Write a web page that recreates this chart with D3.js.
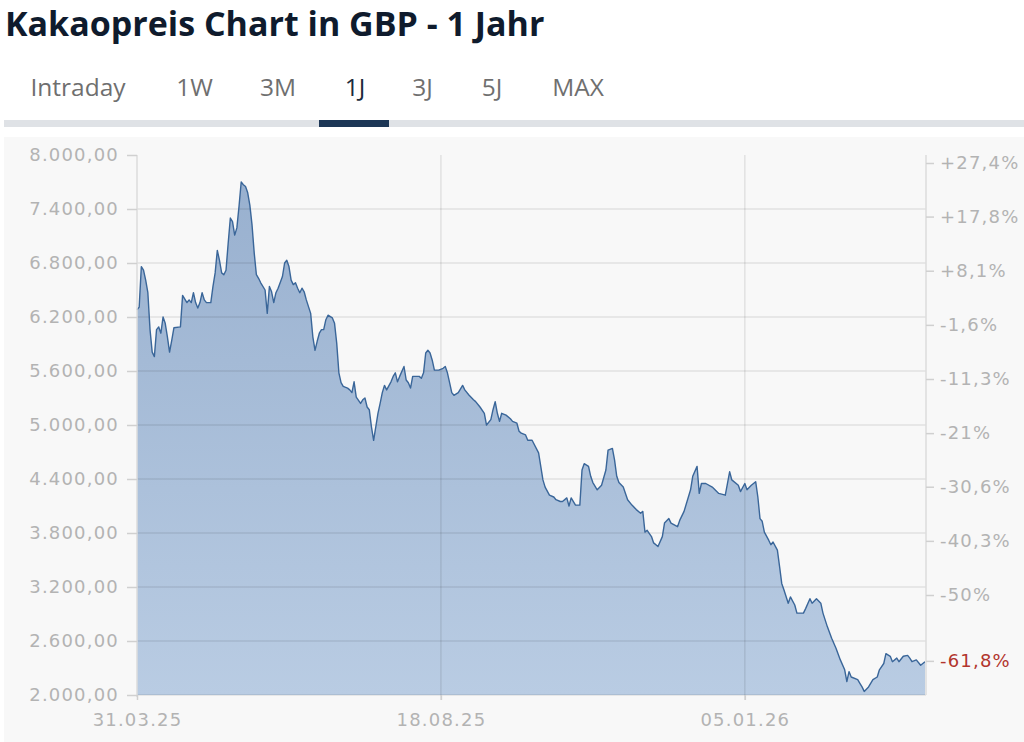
<!DOCTYPE html>
<html><head><meta charset="utf-8">
<script src="https://cdn.jsdelivr.net/npm/d3@7"></script>
<style>html,body{margin:0;padding:0;background:#fff;} svg{display:block;}</style>
</head><body><svg id="c" width="1024" height="742"></svg>
<script>
// ---------- data ----------
const title = "Kakaopreis Chart in GBP - 1 Jahr";
const tabs = ["Intraday", "1W", "3M", "1J", "3J", "5J", "MAX"];
const activeTab = "1J";
const startDate = "2025-03-31";
const dayOffsets = [0,1,2,3,4,5,6,7,8,9,10,11,12,13,14,15,16,17,20,21,23,24,25,26,27,28,29,30,31,32,34,35,36,37,38,39,40,41,42,43,44,45,46,47,48,49,50,51,52,53,54,55,56,57,59,60,61,62,63,64,65,67,68,69,70,71,72,73,74,75,76,77,78,80,81,82,83,84,85,86,87,88,90,91,92,93,94,95,97,98,99,100,101,103,104,105,106,107,108,109,110,111,112,113,114,115,117,118,119,120,121,123,124,125,126,127,130,131,132,133,134,135,136,137,139,141,142,143,144,145,146,148,150,151,153,155,156,158,160,161,163,164,165,166,167,168,170,172,173,175,176,177,179,180,182,185,187,188,190,192,193,195,196,198,199,200,202,204,205,206,208,209,210,212,214,216,217,219,220,221,222,224,226,228,230,232,233,234,235,237,238,240,242,243,245,246,249,250,252,255,256,258,259,260,262,265,268,271,273,274,277,278,280,281,283,285,286,287,288,289,291,292,293,295,296,297,298,300,301,303,304,307,308,310,311,313,315,316,318,320,322,324,326,327,328,329,332,333,334,335,337,339,341,342,344,345,347,348,350,351,353,355,356,357,359,361,362,363];
const prices = [6280,6310,6760,6720,6610,6470,6060,5810,5760,6060,6090,6020,6200,6130,5980,5810,5940,6080,6090,6440,6360,6390,6360,6470,6360,6300,6360,6470,6390,6360,6360,6540,6690,6940,6830,6690,6670,6720,7020,7300,7260,7110,7190,7430,7700,7670,7650,7580,7440,7220,6910,6670,6630,6580,6500,6240,6540,6480,6360,6470,6520,6650,6800,6830,6760,6610,6560,6580,6520,6470,6520,6480,6390,6240,5980,5830,5930,6020,6060,6060,6170,6220,6190,6130,5910,5580,5470,5430,5410,5390,5360,5480,5310,5240,5280,5300,5200,5170,4980,4830,4980,5130,5240,5360,5440,5390,5480,5540,5580,5480,5540,5650,5500,5470,5410,5540,5540,5520,5580,5800,5830,5800,5720,5610,5610,5630,5650,5580,5470,5360,5330,5360,5440,5390,5330,5280,5260,5200,5130,5000,5060,5170,5260,5130,5040,5130,5110,5070,5040,5020,4930,4910,4890,4830,4830,4690,4390,4310,4220,4200,4170,4150,4150,4190,4100,4190,4110,4110,4500,4570,4540,4430,4360,4280,4330,4500,4720,4740,4610,4430,4360,4310,4170,4110,4060,4020,4040,3810,3830,3760,3690,3650,3760,3910,3960,3910,3870,3940,4040,4280,4430,4540,4240,4350,4350,4310,4240,4220,4480,4390,4330,4260,4350,4280,4330,4370,4200,3960,3930,3810,3720,3670,3700,3610,3430,3240,3170,3020,3090,3000,2910,2910,2960,3070,3020,3070,3020,2910,2760,2630,2520,2390,2280,2150,2260,2200,2170,2130,2090,2040,2090,2170,2200,2280,2350,2460,2430,2370,2410,2370,2430,2440,2410,2370,2390,2330,2350,2370];
const priceDomain = [2000, 8000];
const yTicks = [2000, 2600, 3200, 3800, 4400, 5000, 5600, 6200, 6800, 7400, 8000];
const xTickDates = ["2025-03-31", "2025-08-18", "2026-01-05"];
const pctDomain = [-69.35, 27.4];
const pctTicks = [27.4, 17.8, 8.1, -1.6, -11.3, -21, -30.6, -40.3, -50];
const currentPct = -61.8;

// ---------- layout ----------
const tabCenters = [78, 194.5, 278, 355, 422.5, 492, 578];

// ---------- drawing ----------
const svg = d3.select("#c");
const parse = d3.utcParse("%Y-%m-%d");
const t0 = parse(startDate);
const data = dayOffsets.map((d, i) => ({ date: d3.utcDay.offset(t0, d), v: prices[i] }));

const L = 137, R = 925, T = 155, B = 695;
const x = d3.scaleUtc().domain(d3.extent(data, d => d.date)).range([L, R]);
const y = d3.scaleLinear().domain(priceDomain).range([B, T]);
const yPct = d3.scaleLinear().domain(pctDomain).range([B + 8, T + 8]);

const AXF = "'DejaVu Sans', Verdana, sans-serif";

// title
svg.append("text").attr("x", 5).attr("y", 36)
  .attr("font-family", "'Open Sans', sans-serif").attr("font-weight", 700)
  .attr("font-size", 34).attr("fill", "#0f1b2d").text(title);

// tabs
svg.append("rect").attr("x", 4).attr("y", 120).attr("width", 1020).attr("height", 7).attr("fill", "#dfe2e6");
tabs.forEach((t, i) => {
  svg.append("text").attr("x", tabCenters[i]).attr("y", 96).attr("text-anchor", "middle")
    .attr("font-family", "'Open Sans', sans-serif").attr("font-size", 24.5)
    .attr("fill", t === activeTab ? "#1b2a3c" : "#6f6f6f").text(t);
  if (t === activeTab) {
    svg.append("rect").attr("x", tabCenters[i] - 36).attr("y", 120).attr("width", 70).attr("height", 7).attr("fill", "#1d3756");
  }
});

// panel
svg.append("rect").attr("x", 4).attr("y", 137).attr("width", 1020).attr("height", 605).attr("fill", "#f8f8f8");

// gradient
const defs = svg.append("defs");
const g = defs.append("linearGradient").attr("id", "fillg").attr("gradientUnits", "userSpaceOnUse")
  .attr("x1", 0).attr("x2", 0).attr("y1", T).attr("y2", B);
g.append("stop").attr("offset", 0).attr("stop-color", "#97afce");
g.append("stop").attr("offset", 1).attr("stop-color", "#b9cce3");

// area
svg.append("path").datum(data)
  .attr("d", d3.area().x(d => x(d.date)).y0(y(priceDomain[0])).y1(d => y(d.v)))
  .attr("fill", "url(#fillg)");

// grid lines (on top, translucent)
svg.append("g").selectAll("line").data(yTicks.filter(v => v !== priceDomain[1]))
  .join("line").attr("x1", L).attr("x2", R + 1).attr("y1", d => y(d)).attr("y2", d => y(d))
  .attr("stroke", "rgba(0,0,0,0.09)").attr("stroke-width", 1.5);
svg.append("g").selectAll("line").data(xTickDates.slice(1))
  .join("line").attr("x1", d => x(parse(d))).attr("x2", d => x(parse(d))).attr("y1", T).attr("y2", B + 5)
  .attr("stroke", "rgba(0,0,0,0.09)").attr("stroke-width", 1.5);

// line
svg.append("path").datum(data)
  .attr("d", d3.line().x(d => x(d.date)).y(d => y(d.v)))
  .attr("fill", "none").attr("stroke", "#3a6699").attr("stroke-width", 1.4).attr("stroke-linejoin", "round");

// axis lines
svg.append("line").attr("x1", L).attr("x2", L).attr("y1", T).attr("y2", B + 2).attr("stroke", "#dcdcdc").attr("stroke-width", 1.5);
svg.append("line").attr("x1", R + 1).attr("x2", R + 1).attr("y1", T).attr("y2", B).attr("stroke", "#dcdcdc").attr("stroke-width", 1.5);

const loc = d3.formatLocale({ decimal: ",", thousands: ".", grouping: [3], currency: ["", ""] });
const fmtPrice = loc.format(",.2f");
const fmtPct = p => (p > 0 ? "+" : "") + String(p).replace(".", ",") + "%";

function styleAxis(sel) {
  sel.select(".domain").remove();
  sel.selectAll(".tick line").attr("stroke", "#d0d0d0").attr("stroke-width", 1.5);
  sel.selectAll(".tick text").attr("fill", "#b3b3b3").attr("font-family", AXF)
    .attr("font-size", 18).attr("letter-spacing", "1.2px");
}

svg.append("g").attr("transform", `translate(${L},0)`)
  .call(d3.axisLeft(y).tickValues(yTicks).tickFormat(fmtPrice).tickSize(10).tickPadding(8))
  .call(styleAxis);

const ra = svg.append("g").attr("transform", `translate(${R + 1},0)`)
  .call(d3.axisRight(yPct).tickValues([...pctTicks, currentPct]).tickFormat(fmtPct).tickSize(8).tickPadding(6))
  .call(styleAxis);
ra.selectAll(".tick text").filter(d => d === currentPct).attr("fill", "#b2352d");

svg.append("g").attr("transform", `translate(0,${B})`)
  .call(d3.axisBottom(x).tickValues(xTickDates.map(parse)).tickFormat(d3.utcFormat("%d.%m.%y")).tickSize(5).tickPadding(13))
  .call(styleAxis);
</script>
</body></html>
